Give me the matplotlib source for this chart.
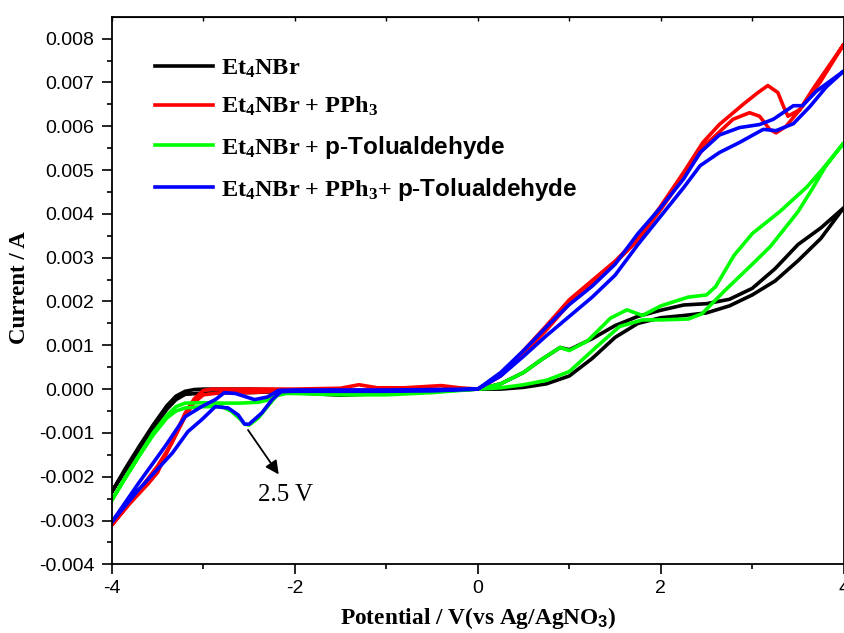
import numpy as np
import matplotlib
matplotlib.use("Agg")
import matplotlib.pyplot as plt

plt.rcParams['font.family'] = 'Liberation Sans'
plt.rcParams['axes.unicode_minus'] = False
plt.rcParams['mathtext.fontset'] = 'custom'
plt.rcParams['mathtext.rm'] = 'Liberation Serif:bold'
plt.rcParams['mathtext.bf'] = 'Liberation Serif:bold'
plt.rcParams['mathtext.it'] = 'Liberation Serif:italic:bold'
plt.rcParams['mathtext.sf'] = 'Liberation Sans:bold'

# currents, in mA (converted to A below)
# every curve is a closed loop: branch a from -4 to 4, branch b back again

# Et4NBr
black_a_v = [-4, -3.85, -3.7, -3.55, -3.4, -3.3, -3.2, -3.1, -3.0, -2.5, -2.0, -1.5, -1.0, -0.5,
             0.0, 0.25, 0.5, 0.7, 0.9, 1.0, 1.25, 1.5, 1.75, 2.0, 2.25, 2.5, 2.75, 3.0, 3.25, 3.5, 3.75, 4.0]
black_a_i = [-2.34, -1.8, -1.3, -0.82, -0.38, -0.16, -0.05, -0.01, 0.0, 0.0, -0.02, -0.03, -0.03, -0.02,
             0.0, 0.12, 0.38, 0.68, 0.95, 0.9, 1.15, 1.45, 1.66, 1.8, 1.92, 1.95, 2.05, 2.3, 2.75, 3.3, 3.68, 4.14]
black_b_v = [-4, -3.85, -3.7, -3.55, -3.4, -3.3, -3.2, -3.0, -2.5, -2.2, -2.0, -1.5, -1.0, -0.5,
             0.0, 0.25, 0.5, 0.75, 1.0, 1.25, 1.5, 1.75, 2.0, 2.25, 2.5, 2.75, 3.0, 3.25, 3.5, 3.75, 4.0]
black_b_i = [-2.34, -1.85, -1.36, -0.9, -0.46, -0.24, -0.12, -0.09, -0.08, -0.06, -0.08, -0.14, -0.1, -0.05,
             0.0, 0.0, 0.04, 0.12, 0.3, 0.7, 1.18, 1.5, 1.63, 1.68, 1.74, 1.9, 2.15, 2.47, 2.93, 3.44, 4.14]

# Et4NBr + PPh3
red_a_v = [-4, -3.8, -3.6, -3.5, -3.4, -3.3, -3.2, -3.1, -3.0, -2.9, -2.5, -2.0, -1.5, -1.3, -1.1, -0.8, -0.4, -0.2,
           0.0, 0.25, 0.5, 0.75, 1.0, 1.25, 1.5, 1.75, 2.0, 2.25, 2.46, 2.64, 2.9, 3.05, 3.17, 3.28, 3.34, 3.39,
           3.52, 3.74, 4.0]
red_a_i = [-3.1, -2.6, -2.15, -1.9, -1.45, -1.0, -0.55, -0.22, -0.03, 0.0, 0.0, 0.0, 0.02, 0.1, 0.03, 0.03, 0.08, 0.03,
           0.0, 0.33, 0.88, 1.45, 2.04, 2.48, 2.92, 3.45, 4.18, 4.95, 5.63, 6.04, 6.5, 6.75, 6.93, 6.77, 6.46, 6.23,
           6.38, 7.0, 7.87]
red_b_v = [-4, -3.7, -3.5, -3.35, -3.2, -3.1, -3.0, -2.8, -2.5, -2.2, -2.0, -1.0,
           0.0, 0.25, 0.5, 0.75, 1.0, 1.25, 1.5, 1.75, 2.0, 2.25, 2.5, 2.79, 2.97, 3.08, 3.19, 3.26, 3.37,
           3.52, 3.66, 4.0]
red_b_i = [-3.1, -2.3, -1.75, -1.25, -0.63, -0.3, -0.13, -0.08, -0.08, -0.05, -0.03, -0.03,
           0.0, 0.3, 0.8, 1.35, 1.95, 2.42, 2.88, 3.4, 4.1, 4.85, 5.6, 6.16, 6.31, 6.23, 5.93, 5.85, 6.0,
           6.38, 6.84, 7.87]

# Et4NBr + p-Tolualdehyde
green_a_v = [-4, -3.85, -3.7, -3.55, -3.4, -3.3, -3.2, -3.0, -2.8, -2.6, -2.4, -2.3, -2.2, -2.1, -2.0, -1.5, -1.0, -0.5,
             0.0, 0.25, 0.5, 0.7, 0.9, 1.0, 1.2, 1.45, 1.63, 1.8, 2.0, 2.3, 2.5, 2.6, 2.8, 3.0, 3.3, 3.6, 3.8, 4.0]
green_a_i = [-2.53, -2.0, -1.5, -1.0, -0.6, -0.4, -0.32, -0.31, -0.32, -0.32, -0.3, -0.25, -0.12, -0.06, -0.05, -0.05,
             -0.05, -0.03,
             0.0, 0.12, 0.38, 0.68, 0.95, 0.88, 1.1, 1.62, 1.81, 1.68, 1.9, 2.1, 2.15, 2.34, 3.05, 3.55, 4.05, 4.62,
             5.1, 5.62]
green_b_v = [-4, -3.85, -3.7, -3.55, -3.4, -3.3, -3.2, -3.0, -2.8, -2.7, -2.6, -2.55, -2.5, -2.4, -2.3, -2.2, -2.1,
             -2.0, -1.5, -1.0, -0.5,
             0.0, 0.25, 0.5, 0.75, 1.0, 1.3, 1.55, 1.8, 2.0, 2.3, 2.45, 2.7, 3.0, 3.2, 3.5, 3.65, 3.8, 4.0]
green_b_i = [-2.53, -2.02, -1.52, -1.05, -0.66, -0.5, -0.43, -0.4, -0.4, -0.5, -0.68, -0.8, -0.82, -0.66, -0.4, -0.15,
             -0.1, -0.1, -0.13, -0.13, -0.08,
             0.0, 0.03, 0.1, 0.2, 0.4, 0.97, 1.43, 1.58, 1.58, 1.6, 1.72, 2.25, 2.85, 3.26, 4.05, 4.55, 5.08, 5.62]

# Et4NBr + PPh3 + p-Tolualdehyde
blue_a_v = [-4, -3.71, -3.42, -3.2, -3.02, -2.87, -2.77, -2.65, -2.44, -2.3, -2.18, -2.0, -1.0,
            0.0, 0.25, 0.5, 0.75, 1.0, 1.25, 1.5, 1.75, 2.0, 2.25, 2.43, 2.64, 2.86, 3.08, 3.23, 3.45, 3.55,
            3.7, 4.0]
blue_a_i = [-3.03, -2.15, -1.31, -0.63, -0.4, -0.24, -0.08, -0.1, -0.24, -0.18, -0.03, -0.02, -0.02,
            0.0, 0.38, 0.88, 1.42, 1.93, 2.35, 2.85, 3.55, 4.15, 4.8, 5.4, 5.8, 5.97, 6.04, 6.16, 6.47, 6.47,
            6.8, 7.26]
blue_b_v = [-4, -3.71, -3.34, -3.17, -3.02, -2.87, -2.73, -2.62, -2.55, -2.5, -2.36, -2.25, -2.15, -2.0, -1.5,
            -1.0, -0.5,
            0.0, 0.25, 0.5, 0.75, 1.0, 1.25, 1.5, 1.75, 2.0, 2.25, 2.43, 2.64, 2.86, 3.12, 3.26, 3.45, 3.63,
            3.81, 4.0]
blue_b_i = [-3.03, -2.3, -1.46, -0.97, -0.7, -0.4, -0.43, -0.59, -0.8, -0.8, -0.54, -0.24, -0.06, -0.05, -0.05,
            -0.05, -0.04,
            0.0, 0.3, 0.75, 1.22, 1.66, 2.1, 2.6, 3.3, 3.95, 4.6, 5.1, 5.4, 5.63, 5.93, 5.9, 6.06, 6.45,
            6.9, 7.26]

labels = [r"$\mathbf{Et_4NBr}$",
          r"$\mathbf{Et_4NBr}$ + $\mathbf{PPh_3}$",
          r"$\mathbf{Et_4NBr}$ + $\mathsf{p}$-$\mathsf{Tolualdehyde}$",
          r"$\mathbf{Et_4NBr}$ + $\mathbf{PPh_3}$+ $\mathsf{p}$-$\mathsf{Tolualdehyde}$"]
colors = ['#000000', '#ff0000', '#00ff00', '#0000ff']
curves = [(black_a_v, black_a_i, black_b_v, black_b_i),
          (red_a_v, red_a_i, red_b_v, red_b_i),
          (green_a_v, green_a_i, green_b_v, green_b_i),
          (blue_a_v, blue_a_i, blue_b_v, blue_b_i)]

fig = plt.figure(figsize=(8.45, 6.33), dpi=100)
ax = fig.add_axes([0.1325, 0.1085, 0.866, 0.865])

for (av, ai, bv, bi), col, lab in zip(curves, colors, labels):
    v = np.concatenate([av, bv[::-1]])
    cur = np.concatenate([ai, bi[::-1]]) * 1e-3
    ax.plot(v, cur, color=col, lw=2.6, label=lab, solid_joinstyle='round')

ax.set_xlim(-4, 4)
ax.set_ylim(-0.004, 0.0085)
ax.set_xticks([-4, -2, 0, 2, 4])
ax.set_xticks([-3, -1, 1, 3], minor=True)
yt = np.arange(-0.004, 0.0081, 0.001)
ax.set_yticks(yt)
ax.set_yticks(np.arange(-0.0035, 0.0085, 0.001), minor=True)
ax.set_yticklabels(['%.3f' % t for t in yt])
ax.tick_params(which='major', direction='out', length=7.5, width=1.2, labelsize=14)
ax.tick_params(which='minor', direction='out', length=3.5, width=1.2)
ax.tick_params(axis='y', which='major', pad=5)
for s in ax.spines.values():
    s.set_linewidth(1.3)

# small inward ticks along the top edge
top = ax.secondary_xaxis('top')
top.set_xticks([-4, -3, -2, -1, 0, 1, 2, 3, 4])
top.tick_params(direction='in', length=3, width=1.0, labeltop=False)
top.set_xticklabels([])

ax.set_xlabel(r"Potential / V(vs Ag/AgNO$_\mathsf{3}$)", fontfamily='Liberation Serif',
              fontweight='bold', fontsize=16.8, labelpad=6)
ax.set_ylabel("Current / A", fontfamily='Liberation Serif', fontweight='bold', fontsize=16.5)
ax.yaxis.set_label_coords(-0.112, 0.505)

ax.annotate('', xy=(-2.16, -0.0020), xytext=(-2.53, -0.00088),
            arrowprops=dict(arrowstyle='-|>', color='black', lw=1.3, mutation_scale=20))
ax.text(-2.4, -0.00242, "2.5 V", fontfamily='Liberation Serif', fontsize=18, va='center', ha='left')

leg = ax.legend(loc='upper left', bbox_to_anchor=(0.029, 0.965), frameon=False,
                prop={'family': 'Liberation Serif', 'weight': 'bold', 'size': 17.5},
                handlelength=2.4, handletextpad=0.3, labelspacing=0.62)

fig.savefig('out.png', dpi=100)
